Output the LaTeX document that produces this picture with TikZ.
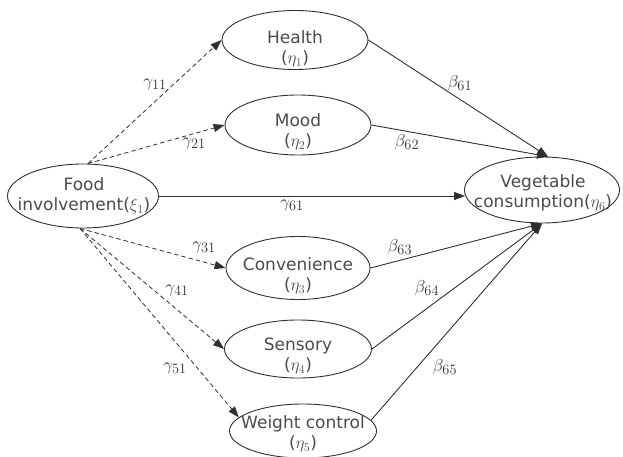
\documentclass[tikz,border=0pt]{standalone}
\usepackage{fontspec}
\setmainfont{DejaVu Sans}
\usetikzlibrary{shapes.geometric,arrows.meta}
\definecolor{txt}{HTML}{4A4A4A}
\definecolor{ln}{HTML}{303030}
\tikzset{
  lat/.style={ellipse,draw=ln,line width=0.9pt,inner sep=0pt},
  lbl/.style={text=txt,font=\fontsize{17}{20}\selectfont,align=center,inner sep=0pt},
  tip/.style={-{Triangle[length=11pt,width=8pt]}},
  dsh/.style={tip,draw=ln,line width=0.8pt,dash pattern=on 4.5pt off 3pt},
  sld/.style={tip,draw=ln,line width=0.9pt},
  coef/.style={inner sep=0pt,text=ln,font=\fontsize{19}{21}\selectfont}
}
\begin{document}
\begin{tikzpicture}[x=1pt,y=-1pt]
\useasboundingbox (0,0) rectangle (623,457);
\node[lat,minimum width=151pt,minimum height=64pt] (food) at (83,196) {};
\node[lbl] (foodt) at (84,196) {Food\\involvement($\xi_1$)};
\node[lat,minimum width=146pt,minimum height=59pt] (health) at (295,40) {};
\node[lbl] (healtht) at (295,49) {Health\\($\eta_1$)};
\node[lat,minimum width=146pt,minimum height=60pt] (mood) at (298,125) {};
\node[lbl] (moodt) at (298,132) {Mood\\($\eta_2$)};
\node[lat,minimum width=144pt,minimum height=63pt] (conv) at (298,268) {};
\node[lbl] (convt) at (298,276) {Convenience\\($\eta_3$)};
\node[lat,minimum width=147pt,minimum height=58pt] (sens) at (298,349) {};
\node[lbl] (senst) at (298,356) {Sensory\\($\eta_4$)};
\node[lat,minimum width=147pt,minimum height=54pt] (weight) at (303,431) {};
\node[lbl] (weightt) at (303,434) {Weight control\\($\eta_5$)};
\node[lat,minimum width=155pt,minimum height=66pt] (veg) at (542,190) {};
\node[lbl] (vegt) at (543,193) {Vegetable\\consumption($\eta_6$)};

\coordinate (ftop) at ([xshift=5pt]food.north);
\coordinate (fbot) at ([xshift=-3pt]food.south);
\coordinate (vtop) at ([xshift=6pt]veg.north);
\coordinate (vbot) at (veg.south);
\coordinate (vleft) at ([xshift=1pt]food.east -| veg.west);

\draw[dsh] (ftop) -- (health.west);
\draw[dsh] (ftop) -- (mood.west);
\draw[dsh] (fbot) -- (conv.west);
\draw[dsh] (fbot) -- (sens.west);
\draw[dsh] (fbot) -- (weight.168);
\draw[sld] (food.east) -- (vleft);

\draw[sld] (health.east) -- (vtop);
\draw[sld] (mood.east) -- (vtop);
\draw[sld] (conv.east) -- (vbot);
\draw[sld] (sens.east) -- (vbot);
\draw[sld] (weight.9) -- (vbot);

\node[coef] (g11) at (155,84) {$\gamma_{11}$};
\node[coef] (g21) at (194,143) {$\gamma_{21}$};
\node[coef] (g31) at (204,247) {$\gamma_{31}$};
\node[coef] (g41) at (177,290) {$\gamma_{41}$};
\node[coef] (g51) at (175,368) {$\gamma_{51}$};
\node[coef] (g61) at (292,205) {$\gamma_{61}$};
\node[coef] (b61) at (460,83) {$\beta_{61}$};
\node[coef] (b62) at (407,142) {$\beta_{62}$};
\node[coef] (b63) at (400,247) {$\beta_{63}$};
\node[coef] (b64) at (427,288) {$\beta_{64}$};
\node[coef] (b65) at (445,367) {$\beta_{65}$};
\end{tikzpicture}
\end{document}
